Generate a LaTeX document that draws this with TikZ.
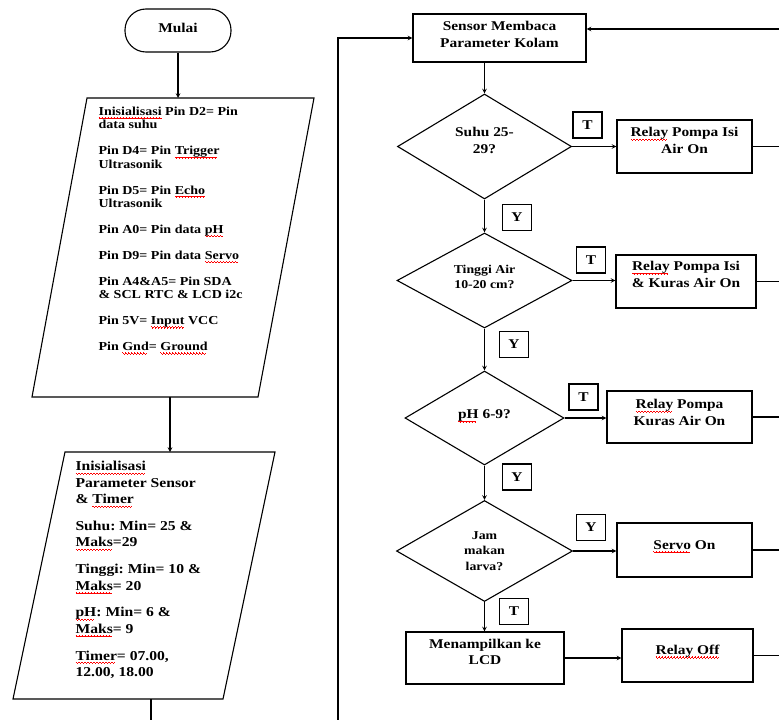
\documentclass[tikz,border=0pt]{standalone}
\usepackage{fontspec}
\setmainfont{Liberation Serif}[FakeStretch=1.15]
\usetikzlibrary{shapes.geometric}
\frenchspacing
% red spell-check wave under a word
\newcommand{\sq}[1]{\leavevmode\setbox0\hbox{#1}\rlap{\smash{\color{red}\hbox to\wd0{\leaders\hbox{\rule[-2.3pt]{0.75pt}{0.55pt}\rule[-2.9pt]{0.75pt}{0.55pt}\rule[-3.5pt]{0.75pt}{0.55pt}\rule[-2.9pt]{0.75pt}{0.55pt}}\hfill}}}\box0\relax}
\newcommand{\lowpad}[1]{\rule[-#1]{0pt}{#1}}
\begin{document}
\begin{tikzpicture}[x=1pt,y=-1pt,line width=1.1pt,>=stealth,
	every node/.style={font=\bfseries\fontsize{13.4}{16.5}\selectfont},
	box/.style={draw,rectangle,align=center,minimum height=53pt,inner sep=2pt},
	dia/.style={draw,diamond,aspect=1.7,align=center,inner sep=1pt},
	tag/.style={draw,minimum width=29pt,minimum height=26pt,inner sep=0pt}]
		\useasboundingbox (0,0) rectangle (779,720);
		% left column
		\node[draw,rounded corners=21pt,minimum width=106pt,minimum height=43pt] (mulai) at (178,30.5) {Mulai\lowpad{6pt}};
		\coordinate (in1) at (178,98);
		\coordinate (out1) at (170,397);
		\coordinate (in2) at (170,452);
		\coordinate (out2) at (151,699);
		\coordinate (bot) at (151,720);
		\draw (87,98) -- (314,98) -- (258,397) -- (32,397) -- cycle;
		\node[anchor=north west,inner sep=0pt,align=left,font=\bfseries\fontsize{12.2}{13.3}\selectfont] (pin) at (98,106.5)
		{\sq{Inisialisasi} Pin D2= Pin\\data suhu\\[12.7pt]
		Pin D4= Pin \sq{Trigger}\\Ultrasonik\\[12.7pt]
		Pin D5= Pin \sq{Echo}\\Ultrasonik\\[12.7pt]
		Pin A0= Pin data \sq{pH}\\[12.7pt]
		Pin D9= Pin data \sq{Servo}\\[12.7pt]
		Pin A4\&A5= Pin SDA\\\& SCL RTC \& LCD i2c\\[12.7pt]
		Pin 5V= \sq{Input} VCC\\[12.7pt]
		Pin \sq{Gnd}= \sq{Ground}};
		\draw (65,452) -- (275,452) -- (223,699) -- (13,699) -- cycle;
		\node[anchor=north west,inner sep=0pt,align=left,font=\bfseries\fontsize{13.6}{16.5}\selectfont] (param) at (75,460.8)
		{\sq{Inisialisasi}\\Parameter Sensor\\\& \sq{Timer}\\[10.2pt]
		Suhu: Min= 25 \&\\\sq{Maks}=29\\[10.2pt]
		Tinggi: Min= 10 \&\\\sq{Maks}= 20\\[10.2pt]
		\sq{pH}: Min= 6 \&\\\sq{Maks}= 9\\[10.2pt]
		\sq{Timer}= 07.00,\\12.00, 18.00};
		\draw[->] (mulai) -- (in1);
		\draw[->] (out1) -- (in2);
		\draw (out2) -- (bot);
		% right column
		\node[box,minimum width=173pt,minimum height=48pt] (sensor) at (499.5,38) {Sensor Membaca\\Parameter Kolam\lowpad{7pt}};
		\node[dia,minimum width=174pt,minimum height=105pt] (d1) at (484.5,146.5) {Suhu 25-\\29?\lowpad{12pt}};
		\node[dia,minimum width=175pt,minimum height=95pt,font=\bfseries\fontsize{12}{14.5}\selectfont] (d2) at (484.5,280.5) {Tinggi Air\\10-20 cm?\lowpad{7pt}};
		\node[dia,minimum width=159pt,minimum height=94pt] (d3) at (484.5,418) {\sq{pH} 6-9?\lowpad{7pt}};
		\node[dia,minimum width=176pt,minimum height=101pt,font=\bfseries\fontsize{12}{15.5}\selectfont] (d4) at (484.5,551) {Jam\\makan\\larva?};
		\node[box,minimum width=158pt,minimum height=52pt] (lcd) at (485,658) {Menampilkan ke\\LCD\lowpad{12pt}};
		\node[box,minimum width=135pt] (r1) at (684.5,146.5) {\sq{Relay} Pompa Isi\\Air On\lowpad{12pt}};
		\node[box,minimum width=140pt] (r2) at (686,281.5) {\sq{Relay} Pompa Isi\\\& Kuras Air On\lowpad{14pt}};
		\node[box,minimum width=145pt,minimum height=52pt] (r3) at (679.5,417) {\sq{Relay} Pompa\\Kuras Air On\lowpad{9pt}};
		\node[box,minimum width=135pt,minimum height=54pt] (servo) at (684.5,550) {\sq{Servo} On\lowpad{10pt}};
		\node[box,minimum width=131pt] (off) at (687.5,655.5) {\sq{Relay Off}\lowpad{11pt}};
		\node[tag] (t1) at (587.5,125) {T};
		\node[tag] (y1) at (517,217.5) {Y};
		\node[tag] (t2) at (591,260) {T};
		\node[tag] (y2) at (514,344.5) {Y};
		\node[tag] (t3) at (583.5,397) {T};
		\node[tag] (y3) at (517,477) {Y};
		\node[tag] (y4) at (591,527.5) {Y};
		\node[tag] (t4) at (514,611.5) {T};
		\coordinate (re) at (779,0);
		\coordinate (rin) at (779,29);
		\coordinate (lb) at (338,720);
		\draw[->] (d1.north |- sensor.south) -- (d1.north);
		\draw[->] (d1) -- (d2);
		\draw[->] (d2) -- (d3);
		\draw[->] (d3) -- (d4);
		\draw[->] (d4) -- (d4.south |- lcd.north);
		\draw[->] (d1.east) -- (d1.east -| r1.west);
		\draw[->] (d2.east) -- (d2.east -| r2.west);
		\draw[->] (d3.east) -- (d3.east -| r3.west);
		\draw[->] (d4.east) -- (d4.east -| servo.west);
		\draw[->] (lcd.east) -- (lcd.east -| off.west);
		\foreach \n in {r1,r2,r3,servo,off}\draw (\n.east) -- (\n.east -| re);
		\draw[->] (rin) -- (rin -| sensor.east);
		\draw[->] (lb) |- (sensor.west);
\end{tikzpicture}
\end{document}
